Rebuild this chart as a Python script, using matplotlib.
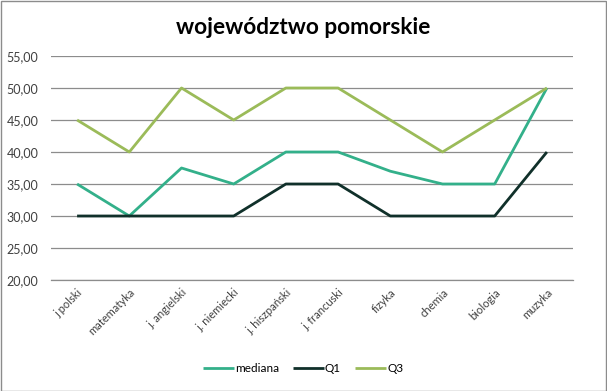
import matplotlib
matplotlib.use("Agg")
import matplotlib.pyplot as plt
from matplotlib.patches import Rectangle

subjects = ["j polski", "matematyka", "j. angielski", "j. niemiecki", "j. hiszpański",
            "j. francuski", "fizyka", "chemia", "biologia", "muzyka"]
mediana = [35, 30, 37.5, 35, 40, 40, 37, 35, 35, 50]
q1 = [30, 30, 30, 30, 35, 35, 30, 30, 30, 40]
q3 = [45, 40, 50, 45, 50, 50, 45, 40, 45, 50]
yticks = [20, 25, 30, 35, 40, 45, 50, 55]

plt.rcParams["font.family"] = ["Lato", "DejaVu Sans"]

W, H = 607, 391
fig = plt.figure(figsize=(W / 100, H / 100), dpi=100)
ax = fig.add_axes([51 / W, 1 - 280 / H, (573 - 51) / W, (280 - 56) / H])

x = range(len(subjects))
ax.plot(x, mediana, color="#33B08A", lw=2.0, label="mediana", solid_capstyle="butt")
ax.plot(x, q1, color="#10302A", lw=2.0, label="Q1", solid_capstyle="butt")
ax.plot(x, q3, color="#9BBB59", lw=2.0, label="Q3", solid_capstyle="butt")

ax.set_xlim(-0.5, len(subjects) - 0.5)
ax.set_ylim(20, 55)
ax.set_yticks(yticks)
ax.set_yticklabels([f"{v:.2f}".replace(".", ",") for v in yticks], fontsize=9, color="#404040")
ax.set_xticks(list(x))
ax.set_xticklabels(subjects, rotation=45, ha="right", rotation_mode="anchor",
                   fontsize=8, color="#404040")
ax.tick_params(axis="both", length=0, pad=5)
ax.tick_params(axis="y", pad=9)
ax.grid(axis="y", color="#8c8c8c", lw=0.9)
ax.set_axisbelow(True)
for s in ["top", "right", "left"]:
    ax.spines[s].set_visible(False)
ax.spines["bottom"].set_color("#8c8c8c")
ax.spines["bottom"].set_linewidth(0.9)

fig.text(0.5, 1 - 28 / H, "województwo pomorskie", ha="center", va="center",
         fontsize=16.3, fontweight="bold", color="black")

fig.legend(loc="center", bbox_to_anchor=(303 / W, 1 - 369 / H), ncol=3, frameon=False,
           fontsize=8.5, handlelength=2.6, handletextpad=0.1, columnspacing=1.2)

fig.add_artist(Rectangle((0.5 / W, 0.5 / H), 1 - 1.5 / W, 1 - 1.5 / H, transform=fig.transFigure,
                         fill=False, edgecolor="#8c8c8c", lw=1))

fig.savefig("out.png", dpi=100)
